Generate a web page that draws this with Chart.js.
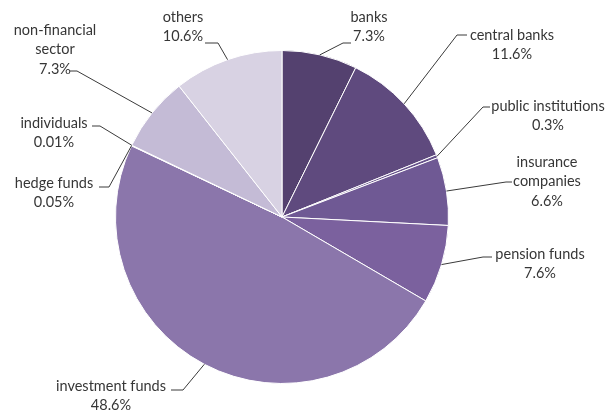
<!DOCTYPE html>
<html>
<head>
<meta charset="utf-8">
<script src="https://cdn.jsdelivr.net/npm/chart.js@4/dist/chart.umd.min.js"></script>
<style>
  html, body { margin: 0; padding: 0; background: #fff; }
  #wrap { width: 611px; height: 414px; }
</style>
</head>
<body>
<div id="wrap"><canvas id="pie" width="611" height="414"></canvas></div>
<script>
// holders and their share, clockwise from 12 o'clock
const holders = ['banks', 'central banks', 'public institutions', 'insurance companies',
    'pension funds', 'investment funds', 'hedge funds', 'individuals',
    'non-financial sector', 'others'];
const shares = [7.3, 11.6, 0.3, 6.6, 7.6, 48.6, 0.05, 0.01, 7.3, 10.6];
const shareText = ['7.3%', '11.6%', '0.3%', '6.6%', '7.6%', '48.6%', '0.05%', '0.01%', '7.3%', '10.6%'];

const sliceColors = ['#54416f', '#5f4a7e', '#66518a', '#6f5994', '#7b619e',
    '#8b76ab', '#9c8bb9', '#ad9fc6', '#c4bbd6', '#d8d2e3'];

// label name lines (share appended below), text centre, and leader elbow/end
const labelLines = [
    ['banks'],
    ['central banks'],
    ['public institutions'],
    ['insurance', 'companies'],
    ['pension funds'],
    ['investment funds'],
    ['hedge funds'],
    ['individuals'],
    ['non-financial', 'sector'],
    ['others']
];
const labelPlace = [
    { cx: 369, top: 17, elbow: [343, 43], end: [351, 43] },
    { cx: 512, top: 35, elbow: [457, 35], end: [467, 35] },
    { cx: 548, top: 106, elbow: [483, 107], end: [490, 107] },
    { cx: 547, top: 162, elbow: [506, 182], end: [512, 182] },
    { cx: 540, top: 254, elbow: [483, 257], end: [492, 257] },
    { cx: 111, top: 386, elbow: [183, 390], end: [171, 390] },
    { cx: 54, top: 183, elbow: [109, 187], end: [99, 187] },
    { cx: 54, top: 123, elbow: [100, 126], end: [92, 126] },
    { cx: 55, top: 30, elbow: [77, 71], end: [70, 71] },
    { cx: 183, top: 17, elbow: [218, 43], end: [205, 43] }
];

const leaderLabels = {
    id: 'leaderLabels',
    afterDatasetsDraw(chart) {
        const ctx = chart.ctx;
        const arcs = chart.getDatasetMeta(0).data;
        ctx.save();
        arcs.forEach((arc, i) => {
            const p = labelPlace[i];
            const mid = (arc.startAngle + arc.endAngle) / 2;
            const sx = arc.x + Math.cos(mid) * arc.outerRadius;
            const sy = arc.y + Math.sin(mid) * arc.outerRadius;
            ctx.strokeStyle = '#3a3a3a';
            ctx.lineWidth = 1;
            ctx.beginPath();
            ctx.moveTo(sx, sy);
            ctx.lineTo(p.elbow[0], p.elbow[1]);
            ctx.lineTo(p.end[0], p.end[1]);
            ctx.stroke();

            ctx.fillStyle = '#363636';
            ctx.font = '14.5px Lato, "Open Sans", sans-serif';
            ctx.textAlign = 'center';
            ctx.textBaseline = 'middle';
            labelLines[i].concat(shareText[i]).forEach((line, k) => {
                ctx.fillText(line, p.cx, p.top + k * 19.5);
            });
        });
        ctx.restore();
    }
};

new Chart(document.getElementById('pie'), {
    type: 'pie',
    data: {
        labels: holders,
        datasets: [{
            data: shares,
            backgroundColor: sliceColors,
            borderColor: '#ffffff',
            borderWidth: 1
        }]
    },
    options: {
        responsive: false,
        animation: false,
        layout: { padding: { left: 115, right: 162, top: 50, bottom: 30 } },
        plugins: {
            legend: { display: false },
            tooltip: { enabled: false }
        }
    },
    plugins: [leaderLabels]
});
</script>
</body>
</html>
